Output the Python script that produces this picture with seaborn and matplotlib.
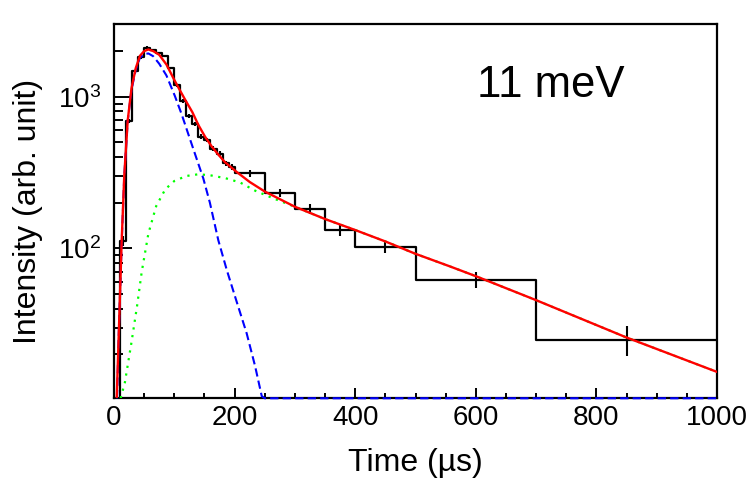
import numpy as np
import pandas as pd
import matplotlib
matplotlib.use("Agg")
import matplotlib.pyplot as plt
import seaborn as sns
from matplotlib.ticker import MultipleLocator, LogLocator, NullFormatter

# ---------------- data ----------------
bin_edges = [0, 10, 20, 30, 40, 50, 60, 70, 80, 90, 100, 110, 120, 130, 140,
             150, 160, 170, 180, 190, 200, 250, 300, 350, 400, 500, 700, 1000]
counts = [4, 112, 694, 1470, 1815, 2110, 2040, 1945, 1850, 1545, 1190, 935,
          745, 660, 545, 518, 455, 420, 364, 345, 312, 233, 182, 133, 102, 62, 25]
count_err = [0, 8, 18, 28, 33, 38, 37, 36, 35, 31, 28, 25, 22, 21, 19, 18,
             17, 16, 15, 15, 16, 15, 13, 12, 9, 7.5, 5.5]

total_t = [4.5, 8, 12.7, 17, 22.7, 29, 36, 43, 50, 57, 65, 75, 87, 100, 110,
           118, 130, 140, 151, 162, 173, 184, 203, 225, 250, 300, 350, 400,
           450, 500, 557, 600, 700, 850, 1000]
total_fit = [10.25, 28, 111, 300, 694, 1136, 1540, 1860, 2000, 2050, 2000,
             1890, 1630, 1290, 1090, 955, 790, 650, 545, 470, 415, 370, 320,
             274, 237, 188, 156, 132, 111, 92, 76, 65.5, 45.5, 25.8, 15.3]

fast_t = [5, 8, 12.7, 17, 22.7, 29, 36, 43, 50, 57, 65, 75, 87, 101, 112,
          123, 137, 148, 159, 173, 187, 203, 220, 234, 245, 250, 1000]
fast_fit = [10.25, 28, 108, 298, 690, 1110, 1500, 1810, 1910, 1930, 1850,
            1650, 1380, 1010, 770, 570, 390, 290, 200, 113, 72, 45, 27.5,
            16.7, 10.6, 0, 0]

slow_t = [11, 18, 29, 38, 46, 57, 70, 85, 100, 120, 140, 160, 185, 209, 234,
          265, 300, 350, 400, 450, 500, 557, 600, 700, 850, 1000]
slow_fit = [10.25, 13, 24, 41, 70, 125, 190, 245, 278, 300, 308, 303, 290,
            272, 240, 213, 188, 156, 132, 111, 92, 76, 65.5, 45.5, 25.8, 15.3]

label_text = "11 meV"
x_title = "Time (\u00b5s)"
y_title = "Intensity (arb. unit)"

Y_MIN, Y_MAX = 10.25, 3020
X_MIN, X_MAX = 0, 1000

# ---------------- style ----------------
sns.set_style("ticks")
plt.rcParams["font.family"] = ["Liberation Sans", "DejaVu Sans"]
plt.rcParams["mathtext.fontset"] = "custom"
plt.rcParams["mathtext.rm"] = "Liberation Sans"
plt.rcParams["mathtext.it"] = "Liberation Sans:italic"
plt.rcParams["mathtext.bf"] = "Liberation Sans:bold"
for key in ["text.color", "axes.labelcolor", "xtick.color", "ytick.color",
            "axes.edgecolor"]:
    plt.rcParams[key] = "black"

fig = plt.figure(figsize=(7.5, 4.83), dpi=100)
ax = fig.add_axes([0.152, 0.1754, 0.804, 0.775])

centers = [(a + b) / 2 for a, b in zip(bin_edges[:-1], bin_edges[1:])]
hist_df = pd.DataFrame({"t": centers, "n": counts})

sns.histplot(data=hist_df, x="t", weights="n", bins=bin_edges,
             element="step", fill=False, color="black", linewidth=1.6, ax=ax)
ax.errorbar(centers, counts, yerr=count_err, fmt="none", ecolor="black",
            elinewidth=1.5, capsize=0, zorder=3)

sns.lineplot(x=slow_t, y=np.clip(slow_fit, Y_MIN, None), color="#00ff00",
             linewidth=1.6, linestyle=(0, (1, 2.5)), estimator=None,
             sort=False, ax=ax, zorder=4)
sns.lineplot(x=fast_t, y=np.clip(fast_fit, Y_MIN, None), color="#0000ff",
             linewidth=1.5, linestyle=(0, (4, 2)), estimator=None, sort=False,
             ax=ax, zorder=5)
ax.lines[-1].set_clip_on(False)
sns.lineplot(x=total_t, y=np.clip(total_fit, Y_MIN, None), color="#ff0000",
             linewidth=1.7, estimator=None, sort=False, ax=ax, zorder=6)

ax.set_yscale("log")
ax.set_xlim(X_MIN, X_MAX)
ax.set_ylim(Y_MIN, Y_MAX)

ax.xaxis.set_major_locator(MultipleLocator(200))
ax.xaxis.set_minor_locator(MultipleLocator(50))
ax.yaxis.set_major_locator(LogLocator(base=10))
ax.yaxis.set_minor_locator(LogLocator(base=10, subs=np.arange(2, 10)))
ax.yaxis.set_minor_formatter(NullFormatter())

ax.tick_params(which="both", direction="in", top=False, right=False,
               color="black", labelcolor="black", width=1.4)
ax.tick_params(axis="x", which="major", length=7.2, pad=5, labelsize=20)
ax.tick_params(axis="x", which="minor", length=3.6)
ax.tick_params(axis="y", which="major", length=13, pad=9, labelsize=20)
ax.tick_params(axis="y", which="minor", length=6.5)

for sp in ax.spines.values():
    sp.set_visible(True)
    sp.set_linewidth(1.6)
    sp.set_color("black")

ax.set_xlabel(x_title, fontsize=23, labelpad=12, color="black")
ax.set_ylabel(y_title, fontsize=23, labelpad=11, color="black")
ax.text(0.602, 0.805, label_text, transform=ax.transAxes, fontsize=31.5,
        ha="left", va="baseline", color="black")

fig.savefig("out.png", dpi=100)
